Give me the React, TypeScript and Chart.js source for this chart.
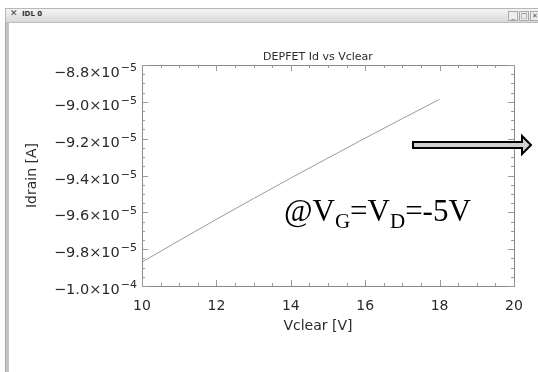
import { useEffect, useRef } from "react";
import { Chart, registerables } from "chart.js";

Chart.register(...registerables);

// Drain current of the DEPFET as a function of the clear voltage
const vclear = [10, 11, 12, 13, 14, 15, 16, 17, 18];
const idrain = [
  -9.87e-5, -9.753e-5, -9.638e-5, -9.525e-5, -9.414e-5, -9.305e-5, -9.197e-5,
  -9.091e-5, -8.986e-5,
];

const xTickValues = [10, 12, 14, 16, 18, 20];
const xTickLabels = ["10", "12", "14", "16", "18", "20"];
const yTickValues = [-8.8e-5, -9.0e-5, -9.2e-5, -9.4e-5, -9.6e-5, -9.8e-5, -1.0e-4];
const yTickMantissas = ["−8.8×10", "−9.0×10", "−9.2×10", "−9.4×10", "−9.6×10", "−9.8×10", "−1.0×10"];
const yTickExponents = ["−5", "−5", "−5", "−5", "−5", "−5", "−4"];

const plotTitle = "DEPFET Id vs Vclear";
const xTitle = "Vclear [V]";
const yTitle = "Idrain [A]";
const windowTitle = "IDL 0";

const FONT = '"DejaVu Sans", sans-serif';
const SERIF = '"Liberation Serif", "Times New Roman", serif';

// IDL-style frame: box, inward ticks on all four sides, labels and annotation
const idlFrame = {
  id: "idlFrame",
  afterDraw(chart: any) {
    const { ctx, chartArea, scales } = chart;
    const { left, top, right, bottom } = chartArea;
    const xs = scales.x;
    const ys = scales.y;
    ctx.save();

    ctx.strokeStyle = "#8a8a8a";
    ctx.lineWidth = 1;
    ctx.strokeRect(Math.round(left) + 0.5, Math.round(top) + 0.5, Math.round(right - left), Math.round(bottom - top));

    ctx.strokeStyle = "#9a9a9a";
    ctx.beginPath();
    // x ticks: minor every 0.5 V, major every 2 V
    for (let k = 0; k <= 20; k++) {
      const v = 10 + k * 0.5;
      const px = Math.round(xs.getPixelForValue(v)) + 0.5;
      const len = k % 4 === 0 ? 6 : 3;
      ctx.moveTo(px, bottom);
      ctx.lineTo(px, bottom - len);
      ctx.moveTo(px, top);
      ctx.lineTo(px, top + len);
    }
    // y ticks: minor every 0.05e-5, major every 0.2e-5
    for (let k = 0; k <= 24; k++) {
      const v = -1.0e-4 + k * 0.05e-5;
      const py = Math.round(ys.getPixelForValue(v)) + 0.5;
      const len = k % 4 === 0 ? 6 : 3;
      ctx.moveTo(left, py);
      ctx.lineTo(left + len, py);
      ctx.moveTo(right, py);
      ctx.lineTo(right - len, py);
    }
    ctx.stroke();

    ctx.fillStyle = "#2a2a2a";
    // x tick labels
    ctx.font = `14px ${FONT}`;
    ctx.textAlign = "center";
    ctx.textBaseline = "middle";
    xTickValues.forEach((v, i) => {
      ctx.fillText(xTickLabels[i], xs.getPixelForValue(v), bottom + 20);
    });

    // y tick labels with superscript exponents
    ctx.textBaseline = "alphabetic";
    ctx.textAlign = "left";
    const labelRight = left - 5;
    yTickValues.forEach((v, i) => {
      const py = ys.getPixelForValue(v);
      ctx.font = `11px ${FONT}`;
      const ws = ctx.measureText(yTickExponents[i]).width;
      ctx.font = `14.5px ${FONT}`;
      const wm = ctx.measureText(yTickMantissas[i]).width;
      const base = py + (i === 0 ? 12 : 8);
      ctx.fillText(yTickMantissas[i], labelRight - ws - wm - 1, base);
      ctx.font = `11px ${FONT}`;
      ctx.fillText(yTickExponents[i], labelRight - ws, base - 6);
    });

    // titles
    ctx.textAlign = "center";
    ctx.textBaseline = "middle";
    const cx = left + (right - left) * 0.473;
    ctx.font = `11px ${FONT}`;
    ctx.fillText(plotTitle, cx, top - 8);
    ctx.font = `14px ${FONT}`;
    ctx.fillText(xTitle, cx, bottom + 40);
    ctx.save();
    ctx.translate(left - 110, (top + bottom) / 2);
    ctx.rotate(-Math.PI / 2);
    ctx.fillText(yTitle, 0, 0);
    ctx.restore();

    // operating point annotation
    ctx.fillStyle = "#000";
    ctx.textAlign = "left";
    ctx.textBaseline = "alphabetic";
    const parts: [string, boolean][] = [
      ["@V", false],
      ["G", true],
      ["=V", false],
      ["D", true],
      ["=-5V", false],
    ];
    let tx = left + 142;
    const ty = top + 156;
    parts.forEach(([s, sub]) => {
      ctx.font = sub ? `21px ${SERIF}` : `31px ${SERIF}`;
      ctx.fillText(s, tx, sub ? ty + 7 : ty);
      tx += ctx.measureText(s).width;
    });

    // block arrow pointing right
    const ax0 = left + 271;
    const ay = top + 80;
    ctx.beginPath();
    ctx.moveTo(ax0, ay - 3);
    ctx.lineTo(ax0 + 109, ay - 3);
    ctx.lineTo(ax0 + 109, ay - 9);
    ctx.lineTo(ax0 + 118, ay);
    ctx.lineTo(ax0 + 109, ay + 9);
    ctx.lineTo(ax0 + 109, ay + 3);
    ctx.lineTo(ax0, ay + 3);
    ctx.closePath();
    ctx.fillStyle = "#cfcfcf";
    ctx.fill();
    ctx.strokeStyle = "#000";
    ctx.lineWidth = 2;
    ctx.stroke();

    ctx.restore();
  },
};

export default function App() {
  const canvasRef = useRef<HTMLCanvasElement | null>(null);

  useEffect(() => {
    if (!canvasRef.current) return;
    const chart = new Chart(canvasRef.current, {
      type: "line",
      data: {
        datasets: [
          {
            data: vclear.map((v, i) => ({ x: v, y: idrain[i] })),
            borderColor: "#9a9a9a",
            borderWidth: 1,
            pointRadius: 0,
            tension: 0,
          },
        ],
      },
      options: {
        animation: false,
        responsive: false,
        layout: { padding: { left: 142, top: 65, right: 24, bottom: 86 } },
        plugins: { legend: { display: false }, tooltip: { enabled: false } },
        scales: {
          x: { type: "linear", min: 10, max: 20, display: false },
          y: { type: "linear", min: -1.0e-4, max: -8.8e-5, display: false },
        },
      },
      plugins: [idlFrame],
    });
    return () => chart.destroy();
  }, []);

  const buttonStyle = {
    position: "absolute" as const,
    top: 2,
    width: 8,
    height: 8,
    border: "1px solid #aaa",
    fontSize: 7,
    lineHeight: "8px",
    textAlign: "center" as const,
    color: "#555",
    background: "#eee",
  };

  return (
    <div
      style={{
        position: "fixed",
        left: 0,
        top: 0,
        width: 538,
        height: 372,
        background: "#fff",
        overflow: "hidden",
        fontFamily: FONT,
      }}
    >
      <canvas ref={canvasRef} width={538} height={372} style={{ position: "absolute", left: 0, top: 0 }} />
      {/* window title bar */}
      <div
        style={{
          position: "absolute",
          left: 5,
          top: 8,
          width: 540,
          height: 13,
          background: "linear-gradient(#f4f4f4, #d9d9d9)",
          borderTop: "1px solid #b8b8b8",
          borderLeft: "1px solid #b8b8b8",
          borderBottom: "1px solid #bdbdbd",
        }}
      >
        <span style={{ position: "absolute", left: 4, top: -1, fontSize: 9, color: "#444" }}>✕</span>
        <span style={{ position: "absolute", left: 16, top: 1, fontSize: 7, fontWeight: "bold", color: "#333" }}>
          {windowTitle}
        </span>
        <span style={{ ...buttonStyle, left: 502 }}>_</span>
        <span style={{ ...buttonStyle, left: 513 }}>□</span>
        <span style={{ ...buttonStyle, left: 524 }}>✕</span>
      </div>
      {/* window left border */}
      <div
        style={{
          position: "absolute",
          left: 5,
          top: 23,
          width: 3,
          height: 360,
          background: "#c4c4c4",
          borderLeft: "1px solid #a8a8a8",
        }}
      />
    </div>
  );
}
